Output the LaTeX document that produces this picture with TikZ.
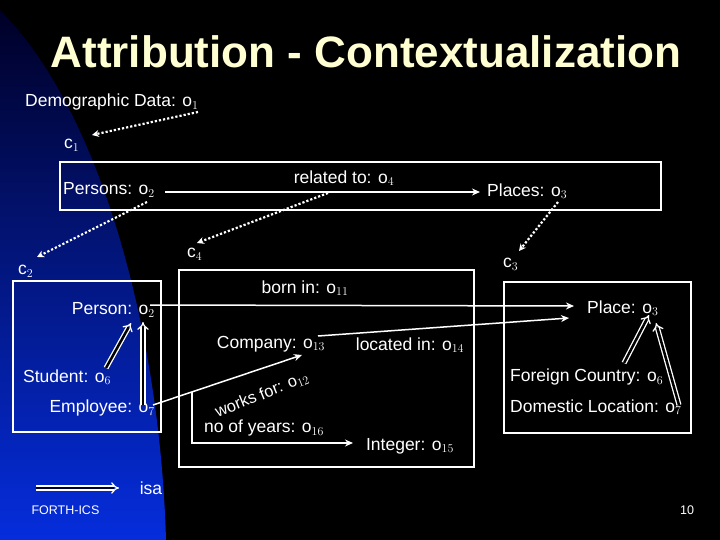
\documentclass[tikz,border=0pt]{standalone}
\usepackage{fontspec}
\setmainfont{Liberation Sans}
\usetikzlibrary{arrows.meta}
\newcommand\osub[1]{$\mathrm{o}_{#1}$}
\newcommand\csub[1]{$\mathrm{c}_{#1}$}
\begin{document}
\begin{tikzpicture}[x=1pt,y=-1pt,
  lbl/.style={text=white,font=\fontsize{17.5}{19}\selectfont,inner sep=0pt},
  box/.style={draw=white,line width=1.5pt},
  dot/.style={white,line width=2.2pt,dotted,-{Stealth[length=7pt,width=7pt]}},
  rel/.style={white,line width=1.5pt,-{Stealth[length=8pt,width=7pt]}},
  isa/.style={white,double=black,double distance=2.5pt,line width=1.3pt,-{Implies[length=7pt]}}]
\fill[black] (0,0) rectangle (720,540);
\useasboundingbox (0,0) rectangle (720,540);
\shade[top color=black!85!blue, bottom color={rgb,255:red,5;green,45;blue,220}]
  (0,10) .. controls (100,110) and (160,330) .. (166,540) -- (0,540) -- cycle;
\node[text={rgb,255:red,255;green,255;blue,210},font=\bfseries\fontsize{44}{46}\selectfont] (title) at (366,52) {Attribution - Contextualization};
% boxes
\draw[box] (60,162) rectangle (661,210);
\draw[box] (13,281) rectangle (161,432);
\draw[box] (179,270) rectangle (474,467);
\draw[box] (504,282) rectangle (691,433);
% texts
\node[lbl,anchor=west] (dd) at (25,102) {Demographic Data: \osub{1}};
\node[lbl,anchor=west] (c1) at (64,145) {\csub{1}};
\node[lbl,anchor=west] (persons) at (63,190) {Persons: \osub{2}};
\node[lbl] (relto) at (344,178) {related to: \osub{4}};
\node[lbl,anchor=west] (places) at (487,191) {Places: \osub{3}};
\node[lbl,anchor=west] (c2) at (18,271) {\csub{2}};
\node[lbl,anchor=west] (c4) at (187,254) {\csub{4}};
\node[lbl,anchor=west] (c3) at (503,264) {\csub{3}};
\node[lbl] (bornin) at (305,288) {born in: \osub{11}};
\node[lbl,anchor=east] (person) at (155,310) {Person: \osub{2}};
\node[lbl,anchor=west] (place) at (587,308) {Place: \osub{3}};
\node[lbl] (company) at (271,344) {Company: \osub{13}};
\node[lbl] (locin) at (410,345) {located in: \osub{14}};
\node[lbl,anchor=west] (student) at (23,377) {Student: \osub{6}};
\node[lbl,anchor=east] (employee) at (155,408) {Employee: \osub{7}};
\node[lbl,rotate=22,font=\fontsize{16.5}{18}\selectfont] (worksfor) at (262,395) {works for: \osub{12}};
\node[lbl] (years) at (264,428) {no of years: \osub{16}};
\node[lbl] (integer) at (410,446) {Integer: \osub{15}};
\node[lbl,anchor=west] (foreign) at (510,377) {Foreign Country: \osub{6}};
\node[lbl,anchor=west] (domestic) at (510,407) {Domestic Location: \osub{7}};
\node[lbl] (isalbl) at (151,488) {isa};
\node[text=white,font=\fontsize{12.5}{14}\selectfont,anchor=west] (forth) at (28,510) {FORTH-ICS};
\node[text=white,font=\fontsize{12.5}{14}\selectfont] (pnum) at (687,510) {10};
% coordinates
\coordinate (a1) at (198,112); \coordinate (b1) at (92,135);
\coordinate (a2) at (147,202); \coordinate (b2) at (37,257);
\coordinate (a4) at (328,193); \coordinate (b4) at (197,243);
\coordinate (a3) at (558,202); \coordinate (b3) at (519,251);
\draw[dot] (a1) -- (b1);
\draw[dot] (a2) -- (b2);
\draw[dot] (a4) -- (b4);
\draw[dot] (a3) -- (b3);
\coordinate (r1) at (165,192); \coordinate (r2) at (480,192);
\draw[rel] (r1) -- (r2);
\coordinate (bi1) at (150,305); \coordinate (bi2) at (574,306);
\draw[rel] (bi1) -- (bi2);
\coordinate (li1) at (318,336); \coordinate (li2) at (569,318);
\draw[rel] (li1) -- (li2);
\coordinate (wf1) at (153,405); \coordinate (wf2) at (302,355);
\draw[rel] (wf1) -- (wf2);
\coordinate (ny1) at (192,392); \coordinate (ny2) at (353,443);
\draw[rel] (ny1) |- (ny2);
% isa
\coordinate (s1) at (106,368); \coordinate (s2) at (131,323);
\draw[isa] (s1) -- (s2);
\coordinate (e1) at (143,405); \coordinate (e2) at (143,322);
\draw[isa] (e1) -- (e2);
\coordinate (f1) at (624,363); \coordinate (f2) at (649,315);
\draw[isa] (f1) -- (f2);
\coordinate (d1) at (679,405); \coordinate (d2) at (656,323);
\draw[isa] (d1) -- (d2);
\coordinate (l1) at (36,488); \coordinate (l2) at (119,488);
\draw[isa,double=black!80!blue] (l1) -- (l2);
\end{tikzpicture}
\end{document}
